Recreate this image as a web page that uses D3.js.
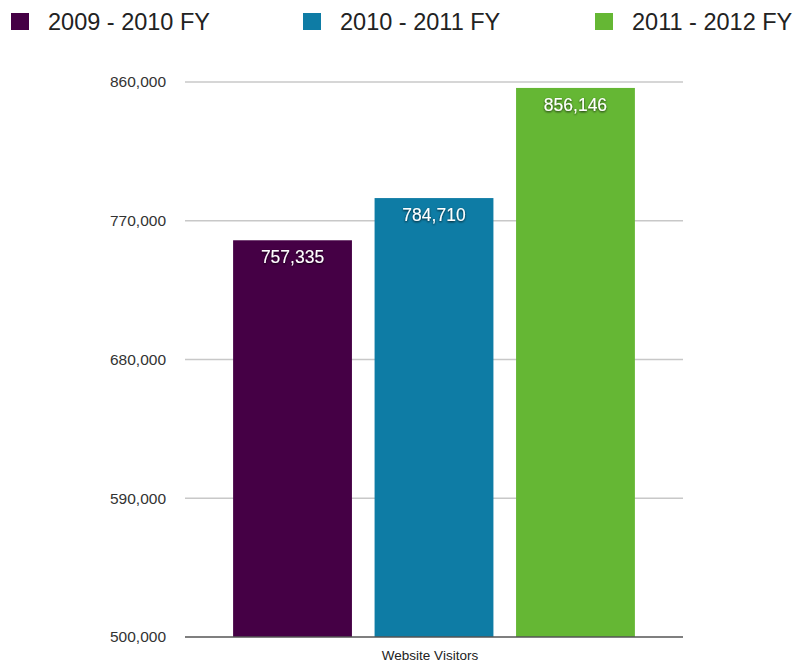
<!DOCTYPE html>
<html>
<head>
<meta charset="utf-8">
<script src="https://cdn.jsdelivr.net/npm/d3@7"></script>
<style>
  body { margin: 0; background: #fff; }
  text { font-family: "Liberation Sans", Helvetica, Arial, sans-serif; }
</style>
</head>
<body>
<div id="chart"></div>
<script>
// data
const seriesNames = ["2009 - 2010 FY", "2010 - 2011 FY", "2011 - 2012 FY"];
const seriesValues = [757335, 784710, 856146];
const seriesColors = ["#450045", "#0e7ca5", "#65b734"];
const yTicks = [500000, 590000, 680000, 770000, 860000];
const category = "Website Visitors";

const w = 799;
const h = 666;

const svg = d3.select("#chart")
  .append("svg")
  .attr("width", w)
  .attr("height", h);

const defs = svg.append("defs");
const shadow = defs.append("filter").attr("id", "shadow")
  .attr("x", "-20%").attr("y", "-20%").attr("width", "140%").attr("height", "160%");
shadow.append("feDropShadow")
  .attr("dx", 0).attr("dy", 1).attr("stdDeviation", 0.8)
  .attr("flood-color", "#000").attr("flood-opacity", 0.8);

const plotLeft = 185, plotRight = 683, plotTop = 82, plotBottom = 637;

const yScale = d3.scaleLinear()
  .domain([500000, 860000])
  .range([plotBottom, plotTop]);

const xScale = d3.scaleBand()
  .domain(seriesNames)
  .range([plotLeft, plotRight])
  .paddingInner(0.16)
  .paddingOuter(0.34);

// gridlines
svg.append("g")
  .selectAll("line")
  .data(yTicks.slice(1))
  .enter()
  .append("line")
  .attr("x1", plotLeft)
  .attr("x2", plotRight)
  .attr("y1", d => yScale(d))
  .attr("y2", d => yScale(d))
  .attr("stroke", "#c8c8c8")
  .attr("stroke-width", 1.5);

// y axis labels
const yAxis = d3.axisLeft(yScale)
  .tickValues(yTicks)
  .tickSize(0)
  .tickPadding(19)
  .tickFormat(d3.format(","));

svg.append("g")
  .attr("transform", "translate(" + plotLeft + ",0)")
  .call(yAxis)
  .call(g => g.select(".domain").remove())
  .call(g => g.selectAll("text")
    .attr("fill", "#333")
    .style("font-size", "15.5px")
    .style("font-family", "'Liberation Sans', Helvetica, Arial, sans-serif"));

// bars
const data = seriesNames.map((name, i) => ({ name: name, value: seriesValues[i], color: seriesColors[i] }));

svg.selectAll("rect.bar")
  .data(data)
  .enter()
  .append("rect")
  .attr("class", "bar")
  .attr("x", d => xScale(d.name))
  .attr("y", d => yScale(d.value))
  .attr("width", xScale.bandwidth())
  .attr("height", d => plotBottom - yScale(d.value))
  .attr("fill", d => d.color);

svg.selectAll("text.val")
  .data(data)
  .enter()
  .append("text")
  .attr("class", "val")
  .attr("x", d => xScale(d.name) + xScale.bandwidth() / 2)
  .attr("y", d => yScale(d.value) + 23)
  .attr("text-anchor", "middle")
  .attr("fill", "#fff")
  .attr("filter", "url(#shadow)")
  .style("font-size", "17.5px")
  .text(d => d3.format(",")(d.value));

// baseline
svg.append("line")
  .attr("x1", plotLeft)
  .attr("x2", plotRight)
  .attr("y1", plotBottom)
  .attr("y2", plotBottom)
  .attr("stroke", "#555")
  .attr("stroke-width", 1.5);

svg.append("text")
  .attr("x", 430)
  .attr("y", 660)
  .attr("text-anchor", "middle")
  .attr("fill", "#222")
  .style("font-size", "13.5px")
  .text(category);

// legend
const legendX = [11, 303, 595];
const legend = svg.selectAll("g.legend")
  .data(data)
  .enter()
  .append("g")
  .attr("class", "legend")
  .attr("transform", (d, i) => "translate(" + legendX[i] + ",0)");

legend.append("rect")
  .attr("x", 0)
  .attr("y", 13)
  .attr("width", 18)
  .attr("height", 17)
  .attr("fill", d => d.color);

legend.append("text")
  .attr("x", 37)
  .attr("y", 29.5)
  .attr("fill", "#222")
  .style("font-size", "23.5px")
  .text(d => d.name);
</script>
</body>
</html>
